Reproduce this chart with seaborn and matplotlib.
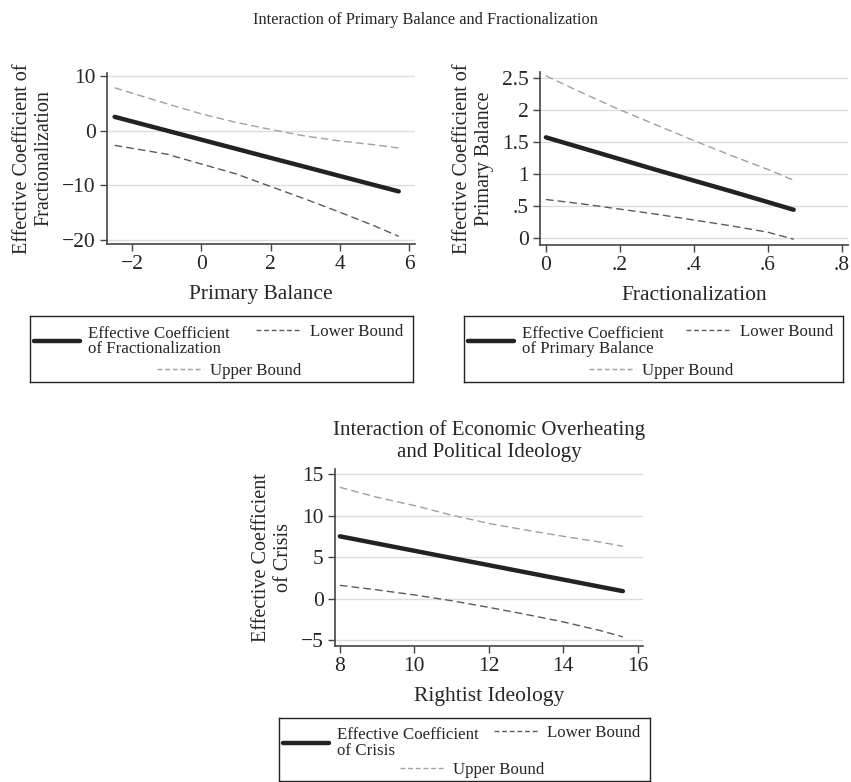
import numpy as np
import pandas as pd
import matplotlib
matplotlib.use("Agg")
import matplotlib.pyplot as plt
import seaborn as sns
from matplotlib.lines import Line2D

# ---------------- data ----------------
# Panel 1: effect of fractionalization across primary balance
pb_x = [-2.5, -1, 0, 1, 2, 3, 4, 5, 5.7]
pb_eff = [2.5, 0.0, -1.66, -3.32, -4.98, -6.63, -8.29, -9.95, -11.1]
pb_low = [-2.7, -4.3, -6.1, -7.9, -10.2, -12.5, -14.9, -17.4, -19.3]
pb_up = [7.8, 4.9, 3.05, 1.5, 0.2, -1.0, -1.9, -2.6, -3.2]

# Panel 2: effect of primary balance across fractionalization
fr_x = [0.0, 0.1, 0.2, 0.3, 0.4, 0.5, 0.6, 0.67]
fr_eff = [1.57, 1.40, 1.23, 1.06, 0.895, 0.73, 0.56, 0.44]
fr_low = [0.60, 0.53, 0.45, 0.37, 0.28, 0.19, 0.09, -0.02]
fr_up = [2.53, 2.26, 2.00, 1.76, 1.52, 1.29, 1.07, 0.90]

# Panel 3: effect of crisis across rightist ideology
ri_x = [8, 9, 10, 11, 12, 13, 14, 15, 15.6]
ri_eff = [7.5, 6.63, 5.76, 4.89, 4.03, 3.16, 2.29, 1.42, 0.9]
ri_low = [1.6, 1.05, 0.45, -0.25, -1.05, -1.9, -2.8, -3.85, -4.6]
ri_up = [13.4, 12.2, 11.2, 10.05, 9.05, 8.25, 7.5, 6.8, 6.3]

main_title = "Interaction of Primary Balance and Fractionalization"
titles3 = "Interaction of Economic Overheating\nand Political Ideology"
xlabels = ["Primary Balance", "Fractionalization", "Rightist Ideology"]
ylabels = ["Effective Coefficient of\nFractionalization",
           "Effective Coefficient of\nPrimary Balance",
           "Effective Coefficient\nof Crisis"]
eff_labels = ["Effective Coefficient\nof Fractionalization",
              "Effective Coefficient\nof Primary Balance",
              "Effective Coefficient\nof Crisis"]
yticks = [[-20, -10, 0, 10], [0, 0.5, 1, 1.5, 2, 2.5], [-5, 0, 5, 10, 15]]
yticklabels = [["\u221220", "\u221210", "0", "10"],
               ["0", ".5", "1", "1.5", "2", "2.5"],
               ["\u22125", "0", "5", "10", "15"]]
xticks = [[-2, 0, 2, 4, 6], [0, 0.2, 0.4, 0.6, 0.8], [8, 10, 12, 14, 16]]
xticklabels = [["\u22122", "0", "2", "4", "6"],
               ["0", ".2", ".4", ".6", ".8"],
               ["8", "10", "12", "14", "16"]]

# ---------------- style ----------------
sns.set_style("white")
plt.rcParams["font.family"] = ["Liberation Serif", "DejaVu Serif"]
plt.rcParams["axes.unicode_minus"] = True

C_MAIN = "#222222"
C_LOW = "#5a5a5a"
C_UP = "#a0a0a0"
C_SPINE = "#444444"
DASH = (5.5, 3)

fig = plt.figure(figsize=(8.51, 7.82), dpi=100)

ax_pos = [
    [107 / 851, 1 - 244 / 782, 308 / 851, 171 / 782],
    [540 / 851, 1 - 245 / 782, 308 / 851, 173 / 782],
    [335 / 851, 1 - 646 / 782, 308 / 851, 177 / 782],
]
xlims = [(-2.72, 6.17), (-0.016, 0.817), (7.87, 16.14)]
ylims = [(-20.7, 10.5), (-0.11, 2.59), (-5.7, 15.6)]

datasets = [
    (pb_x, pb_eff, pb_low, pb_up),
    (fr_x, fr_eff, fr_low, fr_up),
    (ri_x, ri_eff, ri_low, ri_up),
]

for i, (x, eff, low, up) in enumerate(datasets):
    ax = fig.add_axes(ax_pos[i])
    df = pd.DataFrame({"x": x, "eff": eff, "low": low, "up": up})
    sns.lineplot(data=df, x="x", y="up", ax=ax, color=C_UP, lw=1.0,
                 linestyle=(0, DASH), zorder=3)
    sns.lineplot(data=df, x="x", y="low", ax=ax, color=C_LOW, lw=1.0,
                 linestyle=(0, DASH), zorder=3)
    sns.lineplot(data=df, x="x", y="eff", ax=ax, color=C_MAIN, lw=3.2,
                 solid_capstyle="round", zorder=4)
    ax.set_xlim(*xlims[i])
    ax.set_ylim(*ylims[i])
    ax.set_xticks(xticks[i])
    ax.set_xticklabels(xticklabels[i])
    ax.set_yticks(yticks[i])
    ax.set_yticklabels(yticklabels[i])
    ax.set_xlabel(xlabels[i], fontsize=15.5, labelpad=8)
    ax.set_ylabel(ylabels[i], fontsize=14.5, labelpad=6, linespacing=1.2)
    ax.grid(axis="y", color="#dddddd", lw=1.0)
    ax.grid(axis="x", visible=False)
    for s in ["top", "right"]:
        ax.spines[s].set_visible(False)
    for s in ["left", "bottom"]:
        ax.spines[s].set_color(C_SPINE)
        ax.spines[s].set_linewidth(1.2)
    ax.tick_params(axis="both", which="major", direction="out", length=5,
                   width=1.0, color=C_SPINE, labelsize=15.5, pad=3,
                   left=True, bottom=True)
    if i == 2:
        ax.set_title(titles3, fontsize=15, pad=9, linespacing=1.2)

fig.text(0.5, 1 - 20 / 782, main_title, ha="center", va="center", fontsize=11.8)

# ---------------- legends ----------------
leg_pos = [
    [30 / 851, 1 - 382 / 782, 383 / 851, 66 / 782],
    [464 / 851, 1 - 382 / 782, 379 / 851, 66 / 782],
    [279 / 851, 1 - 781 / 782, 371 / 851, 63 / 782],
]
for i in range(3):
    lax = fig.add_axes(leg_pos[i])
    lax.set_xticks([])
    lax.set_yticks([])
    for s in lax.spines.values():
        s.set_color("#222222")
        s.set_linewidth(1.0)
        s.set_visible(True)
    lax.set_facecolor("white")
    h_main = Line2D([], [], color=C_MAIN, lw=3.2)
    h_low = Line2D([], [], color=C_LOW, lw=1.0, linestyle=(0, (3.5, 2)))
    h_up = Line2D([], [], color=C_UP, lw=1.0, linestyle=(0, (3.5, 2)))
    common = dict(frameon=False, fontsize=12.2, handlelength=2.7,
                  handletextpad=0.45, borderpad=0.15, labelspacing=0.1,
                  borderaxespad=0.1)
    l1 = lax.legend([h_main], [eff_labels[i]], loc="upper left",
                    bbox_to_anchor=(0.0, 0.92), **common)
    for t in l1.get_texts():
        t.set_linespacing(0.95)
    lax.add_artist(l1)
    l2 = lax.legend([h_low], ["Lower Bound"], loc="upper right",
                    bbox_to_anchor=(0.985, 0.95), **common)
    lax.add_artist(l2)
    lax.legend([h_up], ["Upper Bound"], loc="lower center",
               bbox_to_anchor=(0.52, -0.02), **common)

fig.savefig("out.png", dpi=100)
